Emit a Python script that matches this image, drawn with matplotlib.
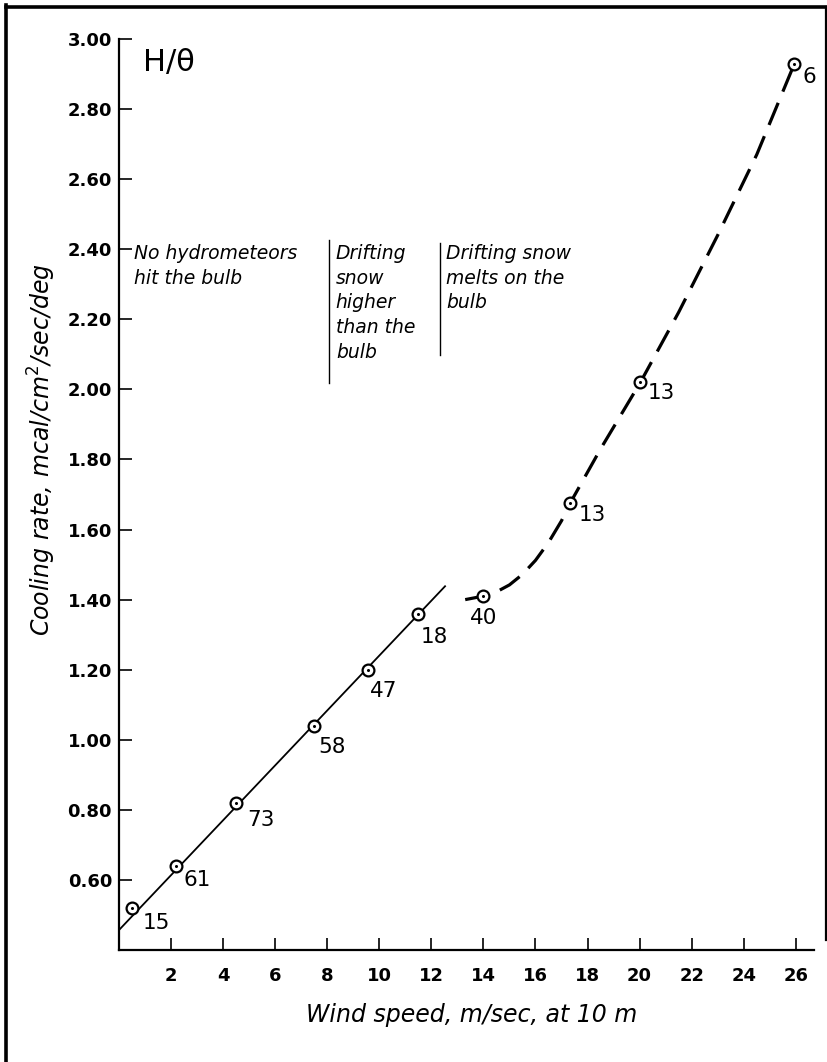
import matplotlib
matplotlib.use("Agg")
import matplotlib.pyplot as plt
from matplotlib.lines import Line2D

# ---------------- data ----------------
wind_speed = [0.5, 2.2, 4.5, 7.5, 9.55, 11.5, 14.0, 17.33, 20.03, 25.95]
cooling_rate = [0.52, 0.64, 0.82, 1.04, 1.20, 1.36, 1.41, 1.675, 2.02, 2.93]
obs_counts = ["15", "61", "73", "58", "47", "18", "40", "13", "13", "6"]

# straight fitted line (solid) end points
fit_x = [0.0, 12.55]
fit_y = [0.457, 1.44]

# hand-drawn dashed curve through the higher wind speeds
curve_x = [13.3, 14.0, 14.5, 15.0, 15.5, 16.0, 16.5, 17.0, 17.33, 18.5, 20.03, 21.5, 23.0, 24.5, 25.95]
curve_y = [1.40, 1.41, 1.422, 1.442, 1.472, 1.512, 1.563, 1.625, 1.675, 1.83, 2.02, 2.22, 2.44, 2.67, 2.93]

y_ticks = [0.60, 0.80, 1.00, 1.20, 1.40, 1.60, 1.80, 2.00, 2.20, 2.40, 2.60, 2.80, 3.00]
x_ticks = [2, 4, 6, 8, 10, 12, 14, 16, 18, 20, 22, 24, 26]

region_texts = ["No hydrometeors\nhit the bulb",
                "Drifting\nsnow\nhigher\nthan the\nbulb",
                "Drifting snow\nmelts on the\nbulb"]

# ---------------- layout / style ----------------
DPI = 100
W, H = 828, 1062
fig = plt.figure(figsize=(W / DPI, H / DPI), dpi=DPI)
fig.patch.set_facecolor("white")

L, R, B, T = 119, 814, 950, 39
ax = fig.add_axes([L / W, 1 - B / H, (R - L) / W, (B - T) / H])
ax.set_xlim(0, 26.7)
ax.set_ylim(0.4, 3.0)

for s in ("top", "right"):
    ax.spines[s].set_visible(False)
for s in ("left", "bottom"):
    ax.spines[s].set_linewidth(1.6)

ax.set_yticks(y_ticks)
ax.set_yticklabels([f"{v:.2f}" for v in y_ticks])
ax.set_xticks(x_ticks)
ax.set_xticklabels([str(v) for v in x_ticks])
ax.tick_params(axis="both", direction="in", length=9, width=1.2, colors="black")
ax.tick_params(axis="y", pad=5, labelsize=13)
ax.tick_params(axis="x", pad=12, labelsize=13)
for lab in ax.get_xticklabels() + ax.get_yticklabels():
    lab.set_fontweight("bold")

# solid fitted line
ax.plot(fit_x, fit_y, color="black", lw=1.3, solid_capstyle="butt", zorder=2)
# dashed curve
ax.plot(curve_x, curve_y, color="black", lw=2.3, linestyle=(0, (7.5, 3.8)),
        dash_capstyle="butt", zorder=2)

# markers: open circle with central dot
ax.plot(wind_speed, cooling_rate, linestyle="none", marker="o", ms=8.5,
        mfc="white", mec="black", mew=1.6, zorder=3)
ax.plot(wind_speed, cooling_rate, linestyle="none", marker="o", ms=2.2,
        mfc="black", mec="black", mew=0, zorder=4)

# count labels (offsets in pixels, x right, y down)
label_offsets = [(24, 15.5), (21, 14), (24.5, 17), (18, 21), (16, 21),
                 (16, 23), (0, 22), (22, 12), (21, 11), (15, 13)]
px2pt = 72 / DPI
for x, y, t, (dx, dy) in zip(wind_speed, cooling_rate, obs_counts, label_offsets):
    ax.annotate(t, (x, y), xytext=(dx * px2pt, -dy * px2pt), textcoords="offset points",
                ha="center", va="center", fontsize=15.5, family="DejaVu Sans", zorder=5)

# region annotations
ax.text(0.58, 2.415, region_texts[0], ha="left", va="top", fontsize=13.5,
        style="italic", linespacing=1.38)
ax.text(8.33, 2.415, region_texts[1], ha="left", va="top", fontsize=13.5,
        style="italic", linespacing=1.38)
ax.text(12.56, 2.415, region_texts[2], ha="left", va="top", fontsize=13.5,
        style="italic", linespacing=1.38)
ax.plot([8.05, 8.05], [2.426, 2.018], color="black", lw=1.0)
ax.plot([12.34, 12.34], [2.418, 2.098], color="black", lw=1.0)

# H/theta
ax.text(0.92, 2.975, "H/θ", ha="left", va="top", fontsize=22)

# axis labels
fig.text(472 / W, 1 - 1015 / H, "Wind speed, m/sec, at 10 m", ha="center", va="center",
         fontsize=17, style="italic")
fig.text(42 / W, 1 - 450 / H, "Cooling rate, mcal/cm$^2$/sec/deg", ha="center", va="center",
         fontsize=17, style="italic", rotation=90)

# outer frame
fig.add_artist(Line2D([6 / W, 6 / W], [0, 1 - 5 / H], transform=fig.transFigure,
                      color="black", lw=2.6))
fig.add_artist(Line2D([6 / W, 1], [1 - 7 / H, 1 - 7 / H], transform=fig.transFigure,
                      color="black", lw=2.6))
fig.add_artist(Line2D([826.5 / W, 826.5 / W], [1 - 7 / H, 1 - 940 / H], transform=fig.transFigure,
                      color="black", lw=1.6))

fig.savefig("out.png", dpi=DPI, facecolor="white")
